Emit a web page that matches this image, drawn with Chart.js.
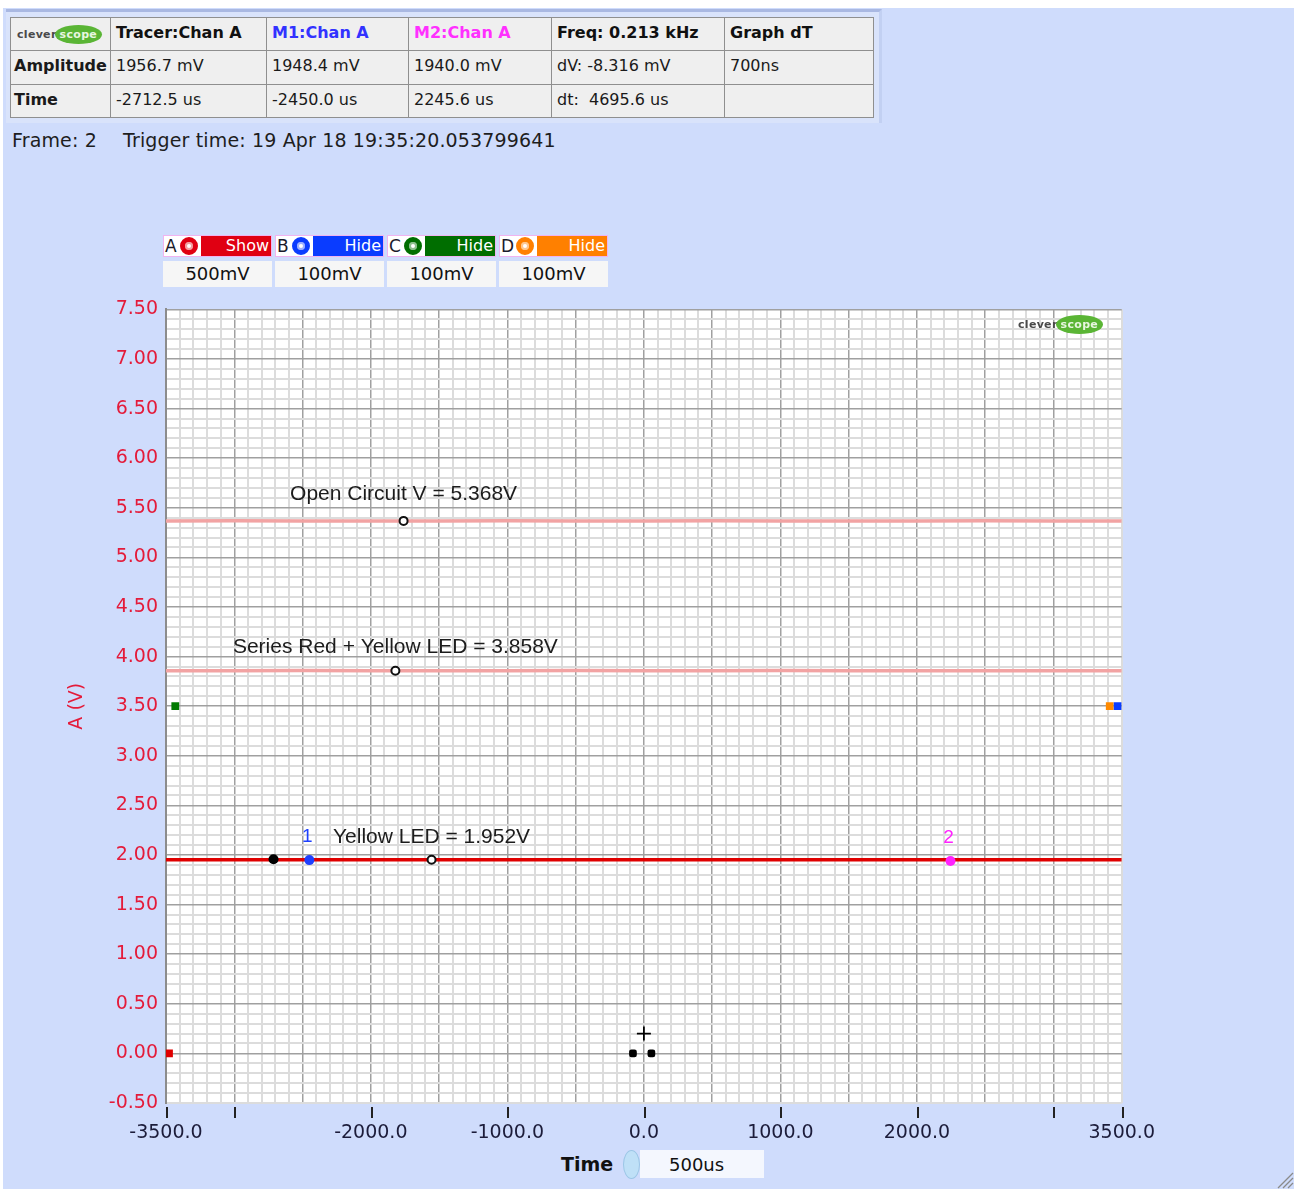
<!DOCTYPE html>
<html><head><meta charset="utf-8">
<script src="https://cdn.jsdelivr.net/npm/chart.js@4.4.1/dist/chart.umd.min.js"></script>
<style>
html,body{margin:0;padding:0;background:#fff;width:1294px;height:1189px;overflow:hidden;font-family:"DejaVu Sans",sans-serif;}
.abs{position:absolute;box-sizing:border-box;}
#bg{left:3px;top:8px;width:1291px;height:1181px;background:#cfdcfc;}
#hdrPanel{left:6px;top:9px;width:876px;height:114px;background:#d9e3fb;border-top:3px solid #a9b8e2;border-right:3px solid #c2d0f2;}
.cell{background:#efefef;border:1px solid #8f8f8f;font-size:16px;color:#1a1a1a;padding-left:5px;line-height:30px;white-space:pre;overflow:hidden;}
.logo{display:inline-flex;align-items:center;font:bold 11px "DejaVu Sans",sans-serif;color:#4a4a4a;letter-spacing:0.3px;}
.logo .pill{background:#5ab535;color:#e8f6e0;border-radius:50%;padding:3px 5px;margin-left:-2px;letter-spacing:0.3px;}
.chgrp{height:22px;border:1px solid #f0b4f0;background:#fff;display:flex;align-items:center;}
.chgrp .let{font-size:17px;color:#1a1a2a;width:15px;padding-left:1px;}
.chgrp .ic{width:18px;height:18px;border-radius:50%;box-sizing:border-box;margin-right:3px;}
.chgrp .bar{flex:1;height:20px;color:#fff;font-size:16px;text-align:right;padding-right:2px;line-height:20px;}
.chval{height:26px;background:#f6f6f6;font-size:18px;text-align:center;line-height:26px;color:#111;}
</style></head>
<body>
<div id="bg" class="abs"></div>
<div id="hdrPanel" class="abs"></div>
<div id="hdr"></div>
<div class="abs" style="left:12px;top:129px;font-size:19px;color:#1e1e1e;white-space:pre;letter-spacing:0.15px;">Frame: 2</div>
<div class="abs" style="left:123px;top:129px;font-size:19px;color:#1e1e1e;white-space:pre;letter-spacing:0.15px;">Trigger time: 19 Apr 18 19:35:20.053799641</div>
<div id="chans"></div>
<canvas id="c" class="abs" width="1160" height="860" style="left:0px;top:290px;width:1160px;height:860px;"></canvas>
<div class="abs" style="left:1018px;top:313px;"><span class="logo">clever<span class="pill">scope</span></span></div>
<div class="abs" style="left:561px;top:1153px;font:bold 19px 'DejaVu Sans',sans-serif;color:#111;">Time</div>
<div class="abs" style="left:623px;top:1150px;width:17px;height:29px;border-radius:50%;background:#bfe0f7;border:1px solid #9cc6e6;"></div>
<div class="abs" style="left:640px;top:1150px;width:124px;height:28px;background:#f4f7fe;font-size:18px;line-height:29px;padding-left:29px;color:#111;">500us</div>
<svg class="abs" style="left:1274px;top:1170px;" width="20" height="19"><path d="M4 18 L19 3 M9 18 L19 8 M14 18 L19 13" stroke="#8a8a8a" stroke-width="1.3"/></svg>
<script>
// ---------- data ----------
const timeUs = [-3500,-3000,-2500,-2000,-1500,-1000,-500,0,500,1000,1500,2000,2500,3000,3500];
const chanA = [1.952,1.953,1.951,1.952,1.953,1.952,1.951,1.952,1.953,1.952,1.951,1.952,1.953,1.952,1.951];
const openCircuitRef = [5.368,5.369,5.367,5.368,5.368,5.369,5.367,5.368,5.369,5.368,5.367,5.368,5.369,5.368,5.368];
const seriesLedRef = [3.858,3.857,3.859,3.858,3.858,3.857,3.859,3.858,3.858,3.859,3.857,3.858,3.858,3.857,3.858];
const annotationLabels = ['Open Circuit V = 5.368V','Series Red + Yellow LED = 3.858V','Yellow LED = 1.952V'];
const annotationTimes = [-1760,-1820,-1555];
const annotationVolts = [5.368,3.858,1.952];
const cursorNames = ['Tracer','1','2'];
const cursorTimes = [-2712.5,-2450.0,2245.6];
const cursorVolts = [1.9567,1.9484,1.9400];
const cursorColors = ['#000000','#1e40ff','#ff22ff'];
const levelTimes = [-3478,-3432,3412,3470];
const levelVolts = [0.0,3.5,3.5,3.5];
const levelColors = ['#e00000','#007a00','#ff8a00','#0a3cff'];
const triggerTimes = [-80,55];
const triggerVolts = [0,0];
const triggerMarkTime = [0];
const triggerMarkVolt = [0.2];
const xTickLabels = [-3500,-2000,-1000,0,1000,2000,3500];
const xTickMarks = [-3500,-3000,-2000,-1000,0,1000,2000,3000,3500];
const yRange = [-0.5,7.5];
const xRange = [-3500,3500];
const hdrRow0 = ['', 'Tracer:Chan A','M1:Chan A','M2:Chan A','Freq: 0.213 kHz','Graph dT'];
const hdrRow1 = ['Amplitude','1956.7 mV','1948.4 mV','1940.0 mV','dV: -8.316 mV','700ns'];
const hdrRow2 = ['Time','-2712.5 us','-2450.0 us','2245.6 us','dt:  4695.6 us',''];
const chLetters = ['A','B','C','D'];
const chStates = ['Show','Hide','Hide','Hide'];
const chScales = ['500mV','100mV','100mV','100mV'];

// ---------- header table ----------
const colX = [10,110,266,408,551,724,873];
const rowY = [17,50,84,117];
const hdrColors = ['#111','#111','#3232ff','#ff30ff','#111','#111'];
let h = '';
[hdrRow0,hdrRow1,hdrRow2].forEach((row,r)=>{
  row.forEach((t,c)=>{
    const bold = r===0 || c===0;
    const col = r===0 ? hdrColors[c] : '#1a1a1a';
    let inner = t;
    if(r===0 && c===0) inner = '<span class="logo" style="margin-top:7px;margin-left:3px">clever<span class="pill">scope</span></span>';
    h += `<div class="abs cell" style="left:${colX[c]}px;top:${rowY[r]}px;width:${colX[c+1]-colX[c]+1}px;height:${rowY[r+1]-rowY[r]+1}px;font-weight:${bold?'bold':'normal'};color:${col};padding-left:${c===0?3:5}px">${inner}</div>`;
  });
});
document.getElementById('hdr').innerHTML = h;

// ---------- channel buttons ----------
const chX = [163,275,387,499];
const chCol = ['#e00012','#0a3cff','#006e00','#ff8000'];
const chLight = ['#f4a0a0','#9db0ff','#8cc08c','#ffc890'];
let ch = '';
chLetters.forEach((L,i)=>{
  ch += `<div class="abs chgrp" style="left:${chX[i]}px;top:235px;width:109px;">
    <span class="let">${L}</span>
    <span class="ic" style="border:5px solid ${chCol[i]};background:#fff;box-shadow:inset 0 0 0 2px ${chLight[i]}"></span>
    <span class="bar" style="background:${chCol[i]}">${chStates[i]}</span></div>
    <div class="abs chval" style="left:${chX[i]}px;top:261px;width:109px;">${chScales[i]}</div>`;
});
document.getElementById('chans').innerHTML = ch;

// ---------- chart ----------
const pts = (xs,ys)=>xs.map((x,i)=>({x,y:ys[i]}));
const majorX = v => Math.round(v)%500===0 && Math.round(v)!==3500;
const majorY = v => Math.round(v*10)%5===0 && Math.round(v*10)!==-5;

const overlay = {
  id:'overlay',
  beforeDraw(chart){
    const {ctx,chartArea:a} = chart;
    ctx.save(); ctx.fillStyle='#ffffff';
    ctx.fillRect(a.left,a.top,a.right-a.left,a.bottom-a.top);
    ctx.restore();
  },
  afterDraw(chart){
    const {ctx,chartArea:a,scales:{x,y}} = chart;
    ctx.save();
    ctx.strokeStyle='#222'; ctx.lineWidth=2;
    xTickMarks.forEach(v=>{
      const px = Math.round(x.getPixelForValue(v))+1;
      ctx.beginPath(); ctx.moveTo(px,a.bottom+4); ctx.lineTo(px,a.bottom+15); ctx.stroke();
    });
    ctx.font='21px "Liberation Sans", Arial, sans-serif';
    ctx.fillStyle='#1c1c1c'; ctx.textAlign='center'; ctx.textBaseline='middle';
    annotationLabels.forEach((t,i)=>{
      const px=x.getPixelForValue(annotationTimes[i]);
      const py=y.getPixelForValue(annotationVolts[i]);
      ctx.fillText(t,px,py-(i===0?27:23));
    });
    ctx.font='19px "Liberation Sans", Arial, sans-serif';
    [1,2].forEach(i=>{
      ctx.fillStyle=cursorColors[i];
      ctx.fillText(cursorNames[i],x.getPixelForValue(cursorTimes[i])-2,y.getPixelForValue(cursorVolts[i])-23);
    });
    ctx.restore();
  }
};

new Chart(document.getElementById('c'),{
  type:'line',
  data:{datasets:[
    {data:pts(timeUs,openCircuitRef),borderColor:'#f2a3a3',borderWidth:3.5,pointRadius:0,order:9},
    {data:pts(timeUs,seriesLedRef),borderColor:'#f2a3a3',borderWidth:3.5,pointRadius:0,order:8},
    {data:pts(timeUs,chanA),borderColor:'#e00000',borderWidth:3.5,pointRadius:0,order:7},
    {data:pts(annotationTimes,annotationVolts),showLine:false,pointRadius:4,pointBorderWidth:2,pointBorderColor:'#111',pointBackgroundColor:'#fff',order:6},
    {data:pts(cursorTimes,cursorVolts),showLine:false,pointRadius:5,pointBorderWidth:0,pointBackgroundColor:cursorColors,order:5},
    {data:pts(levelTimes,levelVolts),showLine:false,pointStyle:'rect',pointRadius:5.5,pointBorderWidth:0,pointBackgroundColor:levelColors,order:4},
    {data:pts(triggerTimes,triggerVolts),showLine:false,pointStyle:'rectRounded',pointRadius:4.5,pointBorderWidth:0,pointBackgroundColor:'#000',order:3},
    {data:pts(triggerMarkTime,triggerMarkVolt),showLine:false,pointStyle:'cross',pointRadius:7,pointBorderWidth:1.8,pointBorderColor:'#000',order:2}
  ]},
  options:{
    responsive:false,animation:false,devicePixelRatio:1,
    plugins:{legend:{display:false},tooltip:{enabled:false}},
    layout:{padding:{top:15,right:38,left:0,bottom:0}},
    scales:{
      x:{type:'linear',min:xRange[0],max:xRange[1],
        afterFit(s){s.height=47;},
        border:{display:false},
        grid:{color:c=>majorX(c.tick.value)?'#a0a0a0':'#dcdcdc',lineWidth:c=>majorX(c.tick.value)?1.5:2,drawTicks:true,tickLength:14,tickColor:'rgba(0,0,0,0)'},
        ticks:{stepSize:100,autoSkip:false,maxRotation:0,padding:5,color:'#1c1c3a',font:{family:'DejaVu Sans',size:19},
          callback:v=>xTickLabels.includes(Math.round(v))?(Math.round(v)).toFixed(1):''}
      },
      y:{type:'linear',min:yRange[0],max:yRange[1],
        afterFit(s){s.width=166;},
        border:{display:true,color:'#8c8c8c',width:2},
        grid:{color:c=>majorY(c.tick.value)?'#a0a0a0':'#dcdcdc',lineWidth:c=>majorY(c.tick.value)?1.5:2,drawTicks:false},
        ticks:{stepSize:0.1,autoSkip:false,padding:8,color:'#e41b3a',font:{family:'DejaVu Sans',size:19},
          callback:v=>Math.round(v*10)%5===0?(Math.round(v*10)/10).toFixed(2):''},
        title:{display:true,text:'A (V)',color:'#e41b3a',font:{family:'DejaVu Sans',size:19},padding:{top:66,bottom:0}}
      }
    }
  },
  plugins:[overlay]
});
</script>
</body></html>
